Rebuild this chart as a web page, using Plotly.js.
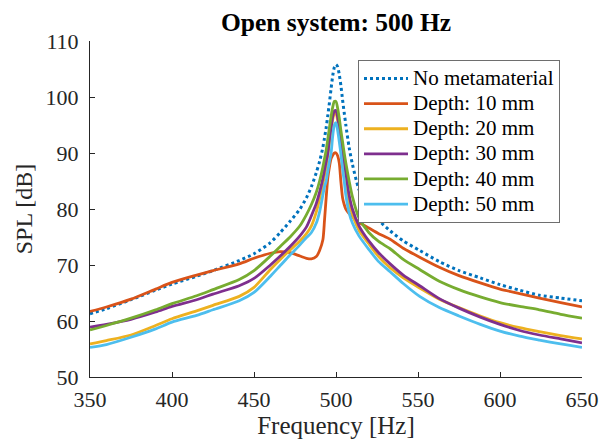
<!DOCTYPE html>
<html>
<head>
<meta charset="utf-8">
<script src="https://cdn.plot.ly/plotly-3.0.1.min.js"></script>
<style>html,body{margin:0;padding:0;background:#fff;}#chart{width:609px;height:448px;}</style>
</head>
<body>
<div id="chart"></div>
<script>
const freq = [350, 360, 375, 390, 400, 415, 425, 441, 450, 460, 466, 472, 478, 482, 485, 488, 490, 492, 493, 494, 495, 496, 497, 498, 499, 500, 501, 502, 503, 504, 505, 506, 508, 510, 514, 520, 526, 533, 541, 551, 563, 575, 588, 600, 612, 624, 637, 650];

const noMeta = [61.3, 62.2, 63.8, 65.5, 66.6, 68.0, 69.0, 70.8, 72.0, 74.0, 75.8, 77.8, 80.0, 82.0, 84.0, 86.5, 88.5, 91.0, 92.7, 94.5, 96.7, 99.0, 101.5, 103.8, 105.3, 105.8, 105.4, 104.0, 102.0, 99.5, 97.2, 95.0, 91.0, 88.0, 83.5, 80.0, 78.0, 76.1, 74.3, 72.6, 70.6, 69.0, 67.7, 66.5, 65.5, 64.6, 64.1, 63.6];

const depth10 = [61.7, 62.5, 63.9, 65.7, 66.9, 68.2, 69.0, 70.2, 71.2, 72.1, 72.4, 72.2, 71.6, 71.2, 71.1, 71.5, 72.6, 74.5, 78.0, 82.0, 85.5, 87.5, 89.0, 89.6, 90.0, 90.0, 89.5, 88.2, 84.8, 82.0, 80.8, 80.0, 79.2, 78.6, 77.6, 76.6, 75.6, 74.6, 73.0, 71.4, 69.6, 68.1, 66.8, 65.7, 64.9, 64.1, 63.3, 62.5];

const depth20 = [55.9, 56.5, 57.5, 59.2, 60.4, 61.8, 62.8, 64.4, 66.0, 69.2, 71.0, 72.7, 74.3, 75.6, 77.0, 79.5, 81.8, 84.5, 86.0, 87.5, 89.5, 91.8, 94.0, 96.0, 97.0, 97.0, 95.8, 93.8, 91.5, 89.3, 87.3, 85.5, 81.0, 79.0, 76.2, 73.8, 71.5, 69.5, 67.7, 65.9, 63.9, 62.4, 60.9, 59.7, 58.8, 58.1, 57.4, 56.8];

const depth30 = [58.9, 59.4, 60.3, 61.6, 62.6, 63.8, 64.8, 66.3, 67.6, 70.0, 71.6, 73.3, 75.2, 76.8, 78.8, 81.0, 83.0, 85.5, 87.0, 88.5, 90.0, 92.5, 94.5, 96.5, 97.5, 97.6, 96.4, 94.5, 92.5, 90.5, 88.5, 86.5, 82.5, 80.0, 77.0, 74.3, 72.2, 70.2, 68.2, 66.3, 64.0, 62.3, 60.7, 59.4, 58.3, 57.5, 56.8, 56.1];

const depth40 = [58.4, 59.2, 60.5, 62.0, 63.1, 64.5, 65.6, 67.4, 69.0, 71.6, 73.3, 75.0, 77.0, 79.0, 80.8, 83.0, 85.0, 87.5, 89.0, 90.5, 92.5, 94.5, 96.5, 98.2, 99.2, 99.2, 98.0, 96.2, 94.0, 92.0, 90.0, 88.2, 85.0, 82.2, 78.4, 75.8, 74.2, 72.9, 71.0, 69.2, 67.1, 65.6, 64.3, 63.3, 62.6, 62.0, 61.2, 60.5];

const depth50 = [55.3, 55.8, 57.1, 58.6, 59.8, 61.0, 62.0, 63.6, 65.1, 68.0, 69.9, 71.8, 73.6, 74.9, 75.8, 77.5, 79.5, 82.5, 84.0, 85.0, 86.8, 88.5, 90.0, 93.0, 95.0, 95.4, 94.0, 92.0, 89.8, 87.2, 85.0, 82.5, 79.3, 77.5, 75.2, 72.8, 70.6, 68.8, 66.7, 64.4, 62.4, 60.9, 59.4, 58.2, 57.3, 56.6, 55.9, 55.3];

const seriesNames = ["No metamaterial", "Depth: 10 mm", "Depth: 20 mm", "Depth: 30 mm", "Depth: 40 mm", "Depth: 50 mm"];
const seriesValues = [noMeta, depth10, depth20, depth30, depth40, depth50];
const seriesColors = ["#0072BD", "#D95319", "#EDB120", "#7E2F8E", "#77AC30", "#4DBEEE"];
const xTicks = [350, 400, 450, 500, 550, 600, 650];
const yTicks = [50, 60, 70, 80, 90, 100, 110];

const font = "'Liberation Serif', 'Times New Roman', serif";

const traces = seriesValues.map((vals, i) => ({
  x: freq,
  y: vals,
  type: "scatter",
  mode: "lines",
  name: '<span style="font-size:21px">' + seriesNames[i] + '</span>',
  line: {color: seriesColors[i], width: i === 0 ? 3 : 2.8, dash: i === 0 ? "dot" : "solid", shape: "spline", smoothing: 0.7}
}));

const layout = {
  width: 609,
  height: 448,
  margin: {l: 90, r: 27, t: 41, b: 71},
  paper_bgcolor: "#fff",
  plot_bgcolor: "#fff",
  font: {family: font, color: "#262626", size: 19},
  title: {
    text: "<b>Open system: 500 Hz</b>",
    font: {family: font, size: 25.5, color: "#000"},
    x: 0.5, xref: "paper", xanchor: "center",
    y: 1 - 22 / 448, yref: "container", yanchor: "middle"
  },
  xaxis: {
    range: [350, 650],
    tickvals: xTicks,
    ticktext: xTicks.map(String),
    ticks: "inside", ticklen: 5, tickcolor: "#262626", tickwidth: 1,
    showline: true, linecolor: "#262626", linewidth: 1, mirror: false,
    showgrid: false, zeroline: false,
    tickfont: {family: font, size: 22, color: "#262626"},
    ticklabelstandoff: 3,
    title: {text: "Frequency [Hz]", font: {family: font, size: 25, color: "#262626"}, standoff: 4}
  },
  yaxis: {
    range: [50, 110],
    tickvals: yTicks,
    ticktext: yTicks.map(String),
    ticks: "inside", ticklen: 5, tickcolor: "#262626", tickwidth: 1,
    showline: true, linecolor: "#262626", linewidth: 1, mirror: false,
    showgrid: false, zeroline: false,
    tickfont: {family: font, size: 22, color: "#262626"},
    ticklabelstandoff: 6,
    title: {text: "SPL [dB]", font: {family: font, size: 24, color: "#262626"}, standoff: 6}
  },
  showlegend: true,
  legend: {
    x: (358 - 90) / 492, y: (377 - 60) / 336,
    xanchor: "left", yanchor: "top",
    bgcolor: "#fff", bordercolor: "#6e6e6e", borderwidth: 1,
    font: {family: font, size: 17, color: "#000"},
    itemwidth: 44,
    tracegroupgap: 0
  }
};

Plotly.newPlot("chart", traces, layout, {displayModeBar: false, staticPlot: true});
</script>
</body>
</html>
